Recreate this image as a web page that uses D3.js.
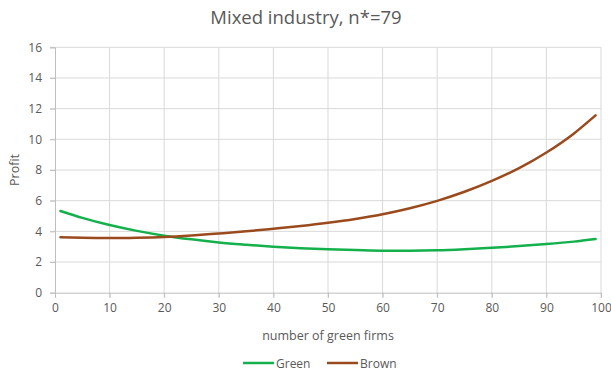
<!DOCTYPE html>
<html>
<head>
<meta charset="utf-8">
<script src="https://cdn.jsdelivr.net/npm/d3@7"></script>
<style>
  html, body { margin: 0; padding: 0; background: #fff; }
  svg { display: block; }
  text { font-family: "Open Sans", "Noto Sans", sans-serif; fill: #595959; }
</style>
</head>
<body>
<svg id="chart" width="611" height="372"></svg>
<script>
// Number of green firms at each sampled point
const firms = [1, 5, 10, 15, 20, 25, 30, 35, 40, 45, 50, 55, 60, 65, 70, 75, 80, 85, 90, 95, 99];
// Profit per firm for each type
const greenProfit = [5.33, 4.88, 4.41, 4.03, 3.72, 3.48, 3.28, 3.13, 3.0, 2.9, 2.83, 2.78, 2.74, 2.74, 2.76, 2.83, 2.93, 3.04, 3.17, 3.33, 3.5];
const brownProfit = [3.62, 3.58, 3.56, 3.58, 3.63, 3.73, 3.86, 4.0, 4.17, 4.35, 4.56, 4.81, 5.12, 5.51, 5.99, 6.58, 7.29, 8.12, 9.14, 10.37, 11.56];
const xTicks = [0, 10, 20, 30, 40, 50, 60, 70, 80, 90, 100];
const yTicks = [0, 2, 4, 6, 8, 10, 12, 14, 16];
const seriesNames = ["Green", "Brown"];
const seriesColors = ["#14b04c", "#9a4a1c"];

const svg = d3.select("#chart");
const x = d3.scaleLinear().domain([0, 100]).range([55, 601]);
const y = d3.scaleLinear().domain([0, 16]).range([292.7, 47.3]);

// Gridlines
const grid = svg.append("g");
grid.selectAll("line.h").data(yTicks.filter(d => d > 0)).join("line")
  .attr("x1", x(0) - 5).attr("x2", x(100))
  .attr("y1", d => y(d)).attr("y2", d => y(d))
  .attr("stroke", "#d9d9d9").attr("stroke-width", 1);
grid.selectAll("line.v").data(xTicks.filter(d => d > 0)).join("line")
  .attr("x1", d => x(d)).attr("x2", d => x(d))
  .attr("y1", y(16)).attr("y2", y(0) + 5)
  .attr("stroke", "#d9d9d9").attr("stroke-width", 1);

// Axes
const xAxis = svg.append("g").attr("transform", `translate(0,${y(0)})`)
  .call(d3.axisBottom(x).tickValues(xTicks).tickSize(5).tickPadding(6));
const yAxis = svg.append("g").attr("transform", `translate(${x(0)},0)`)
  .call(d3.axisLeft(y).tickValues(yTicks).tickSize(5).tickPadding(8));
[xAxis, yAxis].forEach(a => {
  a.select(".domain").attr("stroke", "#bfbfbf");
  a.selectAll(".tick line").attr("stroke", "#bfbfbf");
  a.selectAll(".tick text").attr("fill", "#595959").style("font-size", "12px")
    .style("font-family", '"Open Sans", "Noto Sans", sans-serif');
});

// Lines
const line = d3.line().x(d => x(d[0])).y(d => y(d[1])).curve(d3.curveMonotoneX);
[greenProfit, brownProfit].forEach((vals, i) => {
  svg.append("path")
    .datum(firms.map((f, j) => [f, vals[j]]))
    .attr("d", line)
    .attr("fill", "none")
    .attr("stroke", seriesColors[i])
    .attr("stroke-width", 2.5)
    .attr("stroke-linecap", "round");
});

// Title and axis titles
svg.append("text").attr("x", 306).attr("y", 24).attr("text-anchor", "middle")
  .style("font-size", "18.5px").text("Mixed industry, n*=79");
svg.append("text").attr("x", 328).attr("y", 340).attr("text-anchor", "middle")
  .style("font-size", "12.5px").text("number of green firms");
svg.append("text").attr("transform", "translate(19,170) rotate(-90)").attr("text-anchor", "middle")
  .style("font-size", "12.5px").text("Profit");

// Legend
const legendX = [243, 327];
seriesNames.forEach((name, i) => {
  const g = svg.append("g").attr("transform", `translate(${legendX[i]},363)`);
  g.append("line").attr("x1", 0).attr("x2", 31).attr("y1", 0).attr("y2", 0)
    .attr("stroke", seriesColors[i]).attr("stroke-width", 2.5);
  g.append("text").attr("x", 33).attr("y", 4.5).style("font-size", "12px").text(name);
});
</script>
</body>
</html>
